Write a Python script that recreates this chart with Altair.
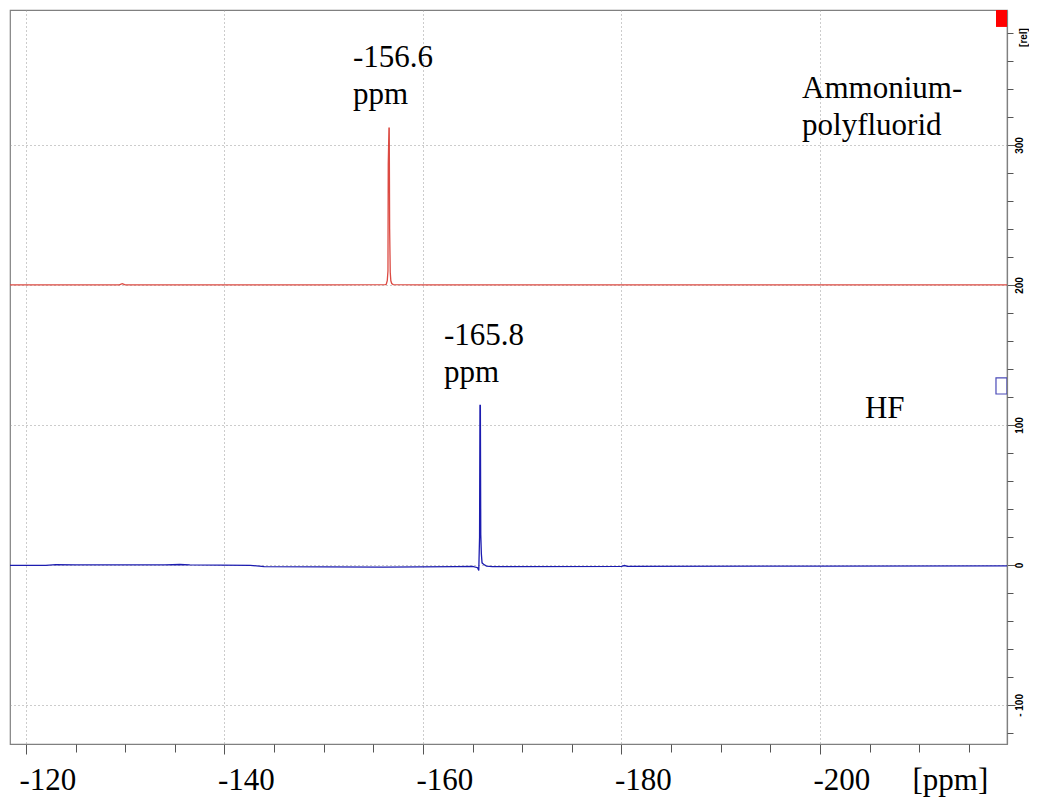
import altair as alt
import pandas as pd

# ---- data ----
# Red spectrum (Ammonium-polyfluorid), raw intensity; drawn with a +200 vertical offset
red_ppm = [-118.39, -129.4, -129.7, -130.0, -150.0, -156.20, -156.30, -156.40, -156.47,
           -156.50, -156.57, -156.60, -156.64, -156.70, -156.76, -156.85, -157.0, -160.0, -218.84]
red_int = [0.0, 0.0, 0.9, 0.0, 0.0, 0.2, 0.5, 3.0, 10.0,
           86.0, 112.0, 112.0, 40.0, 9.0, 3.0, 1.0, 0.3, 0.0, 0.0]
RED_OFFSET = 200

# Blue spectrum (HF)
blue_ppm = [-118.39, -122.0, -123.0, -125.0, -134.0, -135.5, -136.5, -142.6, -144.0,
            -150.0, -156.0, -163.3, -165.0, -165.5, -165.62, -165.70, -165.74, -165.78,
            -165.82, -165.88, -165.95, -166.1, -166.4, -167.0, -180.0, -180.3, -180.6,
            -200.0, -218.84]
blue_int = [-0.3, -0.3, 0.2, 0.0, 0.0, 0.3, 0.0, -0.3, -1.2,
            -1.4, -1.5, -1.2, -1.0, -2.0, -4.0, 20.0, 114.0, 114.0,
            22.0, 8.0, 1.5, 0.5, -0.8, -1.2, -1.0, -0.4, -1.0,
            -0.8, -0.6]

# annotations
ann_text = ["-156.6\nppm", "-165.8\nppm", "Ammonium-\npolyfluorid", "HF"]
ann_ppm = [-152.95, -162.12, -198.19, -204.53]
ann_val = [355.7, 157.1, 333.6, 105.0]

# intensity-scaling markers at the right edge
marker_ppm = [-217.73, -217.73]
marker_ppm2 = [-218.84, -218.84]
marker_val = [384.3, 122.1]
marker_val2 = [396.4, 133.6]
marker_kind = ["red", "blue"]

x_major = [-120, -140, -160, -180, -200]
x_minor = [v for v in range(-215, -119, 5) if v % 20 != 0]
y_major = [-100, 0, 100, 200, 300]
y_minor = [v for v in range(-120, 381, 20) if v % 100 != 0]
X_DOMAIN = [-218.84, -118.39]
Y_DOMAIN = [-127.9, 396.4]

SERIF = "Liberation Serif"
SANS = "Liberation Sans"

# ---- tables ----
red_df = pd.DataFrame({"ppm": red_ppm, "val": [v + RED_OFFSET for v in red_int], "series": "red"})
blue_df = pd.DataFrame({"ppm": blue_ppm, "val": blue_int, "series": "blue"})
ann_df = pd.DataFrame({"ppm": ann_ppm, "val": ann_val, "label": ann_text})
mk_df = pd.DataFrame({"ppm": marker_ppm, "ppm2": marker_ppm2, "val": marker_val,
                      "val2": marker_val2, "kind": marker_kind})
spec_df = pd.concat([red_df, blue_df])

xscale = alt.Scale(domain=X_DOMAIN, reverse=True, nice=False, zero=False)
yscale = alt.Scale(domain=Y_DOMAIN, nice=False, zero=False)

x_axis = alt.Axis(
    orient="bottom", values=x_major,
    labelExpr="'-' + abs(datum.value)",
    labelFont=SERIF, labelFontSize=31, labelColor="black",
    labelAlign="left", labelBaseline="alphabetic", labelOffset=-7, labelPadding=35,
    labelOverlap=False, labelFlush=False,
    tickSize=10, tickColor="#555555", tickWidth=1,
    domainColor="#808080", domainWidth=1.2,
    grid=True, gridDash=[1, 3], gridColor="#999999", gridWidth=1,
    title="[ppm]", titleFont=SERIF, titleFontSize=31, titleFontWeight="normal",
    titleColor="black", titleX=902, titleY=45, titleAlign="left", titleBaseline="alphabetic",
)
y_axis = alt.Axis(
    orient="right", values=y_major,
    labelExpr="datum.value < 0 ? '- ' + abs(datum.value) : '' + datum.value",
    labelFont=SANS, labelFontSize=10, labelFontWeight="bold", labelColor="black",
    labelAngle=270, labelAlign="center", labelBaseline="middle", labelPadding=4,
    labelOverlap=False, labelFlush=False,
    tickSize=8, tickColor="#555555", tickWidth=1,
    domainColor="#808080", domainWidth=1.2,
    grid=True, gridDash=[1, 3], gridColor="#999999", gridWidth=1,
    title="[rel]", titleFont=SANS, titleFontSize=10, titleFontWeight="bold",
    titleColor="black", titleAngle=270, titleX=16, titleY=27,
    titleAlign="center", titleBaseline="middle",
)
x_axis_minor = alt.Axis(orient="bottom", values=x_minor, labels=False, domain=False, grid=False,
                        tickSize=8, tickColor="#555555", tickWidth=1, title=None)
y_axis_minor = alt.Axis(orient="right", values=y_minor, labels=False, domain=False, grid=False,
                        tickSize=6, tickColor="#555555", tickWidth=1, title=None)

lines = alt.Chart(spec_df).mark_line(strokeWidth=1.3, clip=True).encode(
    x=alt.X("ppm:Q", scale=xscale, axis=x_axis),
    y=alt.Y("val:Q", scale=yscale, axis=y_axis),
    color=alt.Color("series:N", scale=alt.Scale(domain=["red", "blue"], range=["#dc4a42", "#1c1cb0"]),
                    legend=None),
    detail="series:N",
)

minor = alt.Chart(spec_df).mark_point(opacity=0, clip=True).encode(
    x=alt.X("ppm:Q", scale=xscale, axis=x_axis_minor),
    y=alt.Y("val:Q", scale=yscale, axis=y_axis_minor),
)

markers_red = alt.Chart(mk_df).transform_filter("datum.kind === 'red'").mark_rect(
    color="#ff0000", clip=True).encode(
    x=alt.X("ppm:Q", scale=xscale, axis=None), x2="ppm2:Q",
    y=alt.Y("val:Q", scale=yscale, axis=None), y2="val2:Q",
)
markers_blue = alt.Chart(mk_df).transform_filter("datum.kind === 'blue'").mark_rect(
    fillOpacity=0, stroke="#4a4ab8", strokeWidth=1.2, clip=True).encode(
    x=alt.X("ppm:Q", scale=xscale, axis=None), x2="ppm2:Q",
    y=alt.Y("val:Q", scale=yscale, axis=None), y2="val2:Q",
)

texts = alt.Chart(ann_df).mark_text(
    align="left", baseline="alphabetic", lineBreak="\n", lineHeight=37,
    font=SERIF, fontSize=31, color="black").encode(
    x=alt.X("ppm:Q", scale=xscale, axis=None),
    y=alt.Y("val:Q", scale=yscale, axis=None),
    text="label:N",
)

chart = alt.layer(lines, minor, markers_red, markers_blue, texts).resolve_axis(
    x="independent", y="independent"
).properties(
    width=997, height=734,
    autosize=alt.AutoSizeParams(type="none"),
    padding={"left": 2, "top": 2, "right": 22, "bottom": 53},
    background="white",
).configure_view(stroke="#808080", strokeWidth=1.2)

chart.save("out.html", embed_options={"renderer": "svg", "actions": False})
